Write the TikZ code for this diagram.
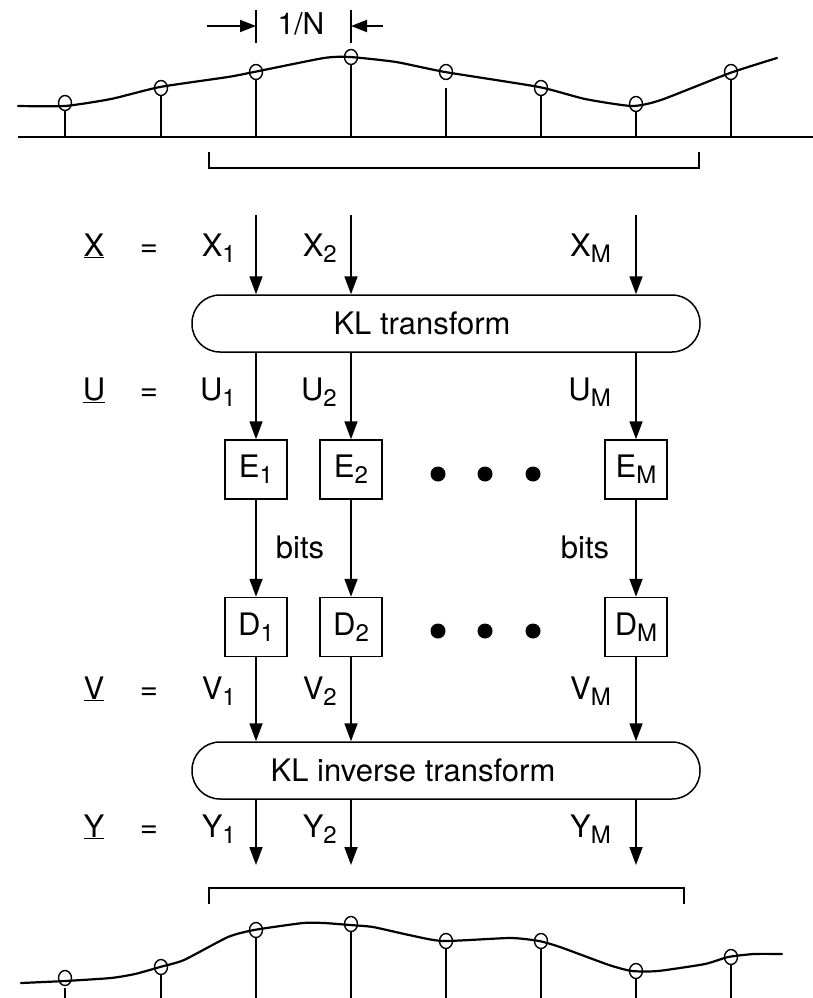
\documentclass[tikz,border=0pt]{standalone}
\usepackage{fontspec}
\setmainfont{TeX Gyre Heros}
\usetikzlibrary{arrows.meta}
% lowered subscript used in the component labels
\newcommand\sbx[1]{\raisebox{-6pt}{\fontsize{24}{24}\selectfont #1}}
\begin{document}
\begin{tikzpicture}[x=1pt,y=-1pt,
  every node/.style={font=\fontsize{31}{34}\selectfont, inner sep=0pt},
  arr/.style={line width=1.8pt, -{Triangle[length=18pt,width=13pt]}},
  dimarr/.style={line width=1.8pt, -{Triangle[length=16pt,width=12pt]}},
  wave/.style={line width=2.2pt, line join=round, line cap=round},
  stem/.style={line width=1.3pt},
  smp/.style={line width=1.4pt},
  coder/.style={draw, line width=1.5pt, minimum width=62pt, minimum height=59pt},
  klbox/.style={draw, line width=1.5pt, rounded corners=28pt, minimum width=508pt, minimum height=57pt},
  lbl/.style={anchor=base east},
]
\useasboundingbox (0,0) rectangle (813,998);

% ---------- sampled input signal ----------
\draw[line width=2.2pt] (18,137) -- (813,137);
\draw[wave] plot[smooth, tension=0.35] coordinates {
  (18,106) (65,106) (111,99) (160,87) (228,77) (254,72) (324,58) (350,57)
  (396,62) (445,72) (539,87) (585,99) (632,106) (661,100) (730,73) (777,58)};
\foreach \x/\y in {65/103,161/88,256/72,351/57,541/88,636/104,731/72}{
  \draw[stem] (\x,\y+7.5) -- (\x,137);
  \draw[smp] (\x,\y) ellipse [x radius=6.5pt, y radius=7.5pt];
}
\draw[stem] (446,88) -- (446,137);
\draw[smp] (446,72) ellipse [x radius=6.5pt, y radius=7.5pt];

% sample spacing
\draw[stem] (256,10) -- (256,43);
\draw[stem] (351,10) -- (351,43);
\coordinate (dl) at (207,26);
\coordinate (dr) at (383,26);
\coordinate (tl) at (256,26);
\coordinate (tr) at (351,26);
\draw[dimarr] (dl) -- (tl);
\draw[dimarr] (dr) -- (tr);
\node[font=\fontsize{30}{32}\selectfont] (spacing) at (301,24) {1/N};

% block of M samples
\draw[line width=1.5pt] (209,152) -- (209,168) -- (699,168) -- (699,152);

% ---------- transform chain ----------
\node[klbox] (kl) at (446,323.5) {};
\node at ([xshift=-24pt]kl.center) {KL transform};

\node[coder] (e1) at (256,469.5) {E\sbx{1}};
\node[coder] (e2) at (351,469.5) {E\sbx{2}};
\node[coder] (em) at (636,469.5) {E\sbx{M}};
\node[coder] (d1) at (256,627) {D\sbx{1}};
\node[coder] (d2) at (351,627) {D\sbx{2}};
\node[coder] (dm) at (636,627) {D\sbx{M}};

\node[klbox] (kli) at (446,770.5) {};
\node at ([xshift=-33pt]kli.center) {KL inverse transform};

% inputs
\coordinate (x1) at (256,215);
\coordinate (x2) at (351,215);
\coordinate (xm) at (636,215);
\draw[arr] (x1) -- (x1 |- kl.north);
\draw[arr] (x2) -- (x2 |- kl.north);
\draw[arr] (xm) -- (xm |- kl.north);

% transform outputs to encoders
\draw[arr] (e1 |- kl.south) -- (e1.north);
\draw[arr] (e2 |- kl.south) -- (e2.north);
\draw[arr] (em |- kl.south) -- (em.north);

% bit streams
\draw[arr] (e1.south) -- (d1.north);
\draw[arr] (e2.south) -- (d2.north);
\draw[arr] (em.south) -- (dm.north);
\node (bits1) at (300,547) {bits};
\node (bitsm) at (585,547) {bits};

% decoders to inverse transform
\draw[arr] (d1.south) -- (d1 |- kli.north);
\draw[arr] (d2.south) -- (d2 |- kli.north);
\draw[arr] (dm.south) -- (dm |- kli.north);

% outputs
\coordinate (y1) at (256,865);
\coordinate (y2) at (351,865);
\coordinate (ym) at (636,865);
\draw[arr] (y1 |- kli.south) -- (y1);
\draw[arr] (y2 |- kli.south) -- (y2);
\draw[arr] (ym |- kli.south) -- (ym);

% ellipsis dots
\foreach \x in {438,485,533}{
  \fill (\x,474) circle [radius=7.5pt];
  \fill (\x,631) circle [radius=7.5pt];
}

% row labels
\foreach \v/\b in {X/256,U/400,V/699,Y/837}{
  \node[anchor=base] at (94,\b) {\underline{\v}};
  \node[anchor=base] at (149,\b) {=};
  \node[lbl] at (236,\b) {\v\sbx{1}};
  \node[lbl] at (337,\b) {\v\sbx{2}};
  \node[lbl] at (611,\b) {\v\sbx{M}};
}

% reconstructed block
\draw[line width=1.5pt] (209,904) -- (209,888) -- (684,888) -- (684,904);

% ---------- reconstructed signal ----------
\draw[wave] plot[smooth, tension=0.35] coordinates {
  (21,983) (65,981) (111,978) (135,974) (160,967) (184,960) (228,937) (254,930)
  (303,923) (324,923) (350,925) (373,927) (409,935) (443,941) (510,938) (539,941)
  (560,947) (609,965) (632,971) (658,971) (705,964) (728,957) (754,954) (782,954)};
\foreach \x/\y in {161/967,256/930,351/924,446/941,541/941,636/971,731/957}{
  \draw[stem] (\x,\y+7.5) -- (\x,998);
  \draw[smp] (\x,\y) ellipse [x radius=6.5pt, y radius=7.5pt];
}
\draw[stem] (65,988) -- (65,998);
\draw[smp] (65,978) ellipse [x radius=6.5pt, y radius=7.5pt];
\end{tikzpicture}
\end{document}
